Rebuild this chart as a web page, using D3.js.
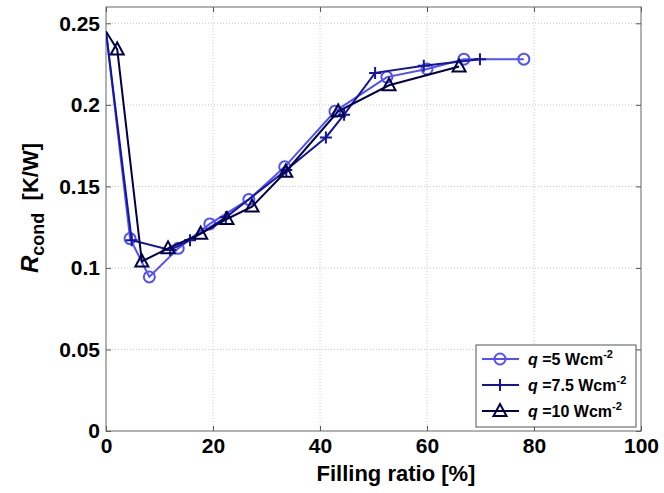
<!DOCTYPE html>
<html><head><meta charset="utf-8">
<script src="https://cdn.jsdelivr.net/npm/d3@7"></script>
<style>
body{margin:0;background:#fff;}
text{font-family:"Liberation Sans",Arial,sans-serif;font-weight:bold;}
</style></head>
<body><svg id="c" width="664" height="493"></svg>
<script>
const xTicks = [0,20,40,60,80,100];
const yTicks = [0,0.05,0.1,0.15,0.2,0.25];
const yTickLabels = ["0","0.05","0.1","0.15","0.2","0.25"];
const seriesNames = ["=5 Wcm","=7.5 Wcm","=10 Wcm"];
const q5x = [0,4.5,8.1,13.5,19.4,26.7,33.4,42.8,52.5,60,66.9,78.1];
const q5y = [0.245,0.118,0.0945,0.112,0.127,0.142,0.162,0.196,0.217,0.222,0.228,0.228];
const q75x = [0,4.8,12,15.7,22.4,33.7,41.1,44.5,50.3,59.4,69.9];
const q75y = [0.245,0.117,0.111,0.117,0.131,0.160,0.180,0.194,0.2196,0.224,0.228];
const q10x = [0,2.1,6.7,11.6,17.7,22.6,27.3,33.6,43.4,52.9,66];
const q10y = [0.245,0.234,0.104,0.112,0.121,0.130,0.1376,0.159,0.196,0.212,0.2235];
const colors = ["#5050ff","#14149e","#000046"];
const markers = ["circle","plus","triangle"];

const svg = d3.select("#c");
const L=106,T=7,R=641,B=431;
const x = d3.scaleLinear().domain([0,100]).range([L,R]);
const y = d3.scaleLinear().domain([0,0.26]).range([B,T]);

// grid
const g = svg.append("g");
g.selectAll(".gx").data(xTicks.filter(d=>d>0&&d<100)).enter().append("line")
 .attr("x1",d=>x(d)).attr("x2",d=>x(d)).attr("y1",T).attr("y2",B)
 .attr("stroke","#c8c8c8").attr("stroke-dasharray","1,2");
g.selectAll(".gy").data(yTicks.filter(d=>d>0)).enter().append("line")
 .attr("y1",d=>y(d)).attr("y2",d=>y(d)).attr("x1",L).attr("x2",R)
 .attr("stroke","#c8c8c8").attr("stroke-dasharray","1,2");

// axes
const xAxis = d3.axisBottom(x).tickValues(xTicks).tickSizeInner(-5).tickSizeOuter(0).tickPadding(9);
const xa = svg.append("g").attr("transform",`translate(0,${B})`).call(xAxis);
xa.selectAll("text").attr("font-size",21).attr("fill","#000").attr("dy","0.6em");
const yAxis = d3.axisLeft(y).tickValues(yTicks).tickFormat((d,i)=>yTickLabels[i]).tickSizeInner(-5).tickSizeOuter(0).tickPadding(6);
const ya = svg.append("g").attr("transform",`translate(${L},0)`).call(yAxis);
ya.selectAll("text").attr("font-size",21).attr("fill","#000");
// right / top ticks
svg.append("g").attr("transform",`translate(0,${T})`).call(d3.axisTop(x).tickValues(xTicks).tickSizeInner(-5).tickSizeOuter(0).tickFormat(""));
svg.append("g").attr("transform",`translate(${R},0)`).call(d3.axisRight(y).tickValues(yTicks).tickSizeInner(-5).tickSizeOuter(0).tickFormat(""));
svg.selectAll(".domain").attr("stroke","none");
svg.selectAll(".tick line").attr("stroke","#555");
svg.append("rect").attr("x",L).attr("y",T).attr("width",R-L).attr("height",B-T)
 .attr("fill","none").attr("stroke","#666").attr("stroke-width",1);

// clip
svg.append("clipPath").attr("id","clip").append("rect").attr("x",L).attr("y",T).attr("width",R-L).attr("height",B-T);

const series = [
 {xs:q5x,ys:q5y},{xs:q75x,ys:q75y},{xs:q10x,ys:q10y}
];
const line = d3.line().x(d=>x(d[0])).y(d=>y(d[1]));
function drawMarker(sel, type, color){
 if(type==="plus"){
   sel.append("path").attr("d","M-6,0H6M0,-6V6").attr("stroke",color).attr("stroke-width",2).attr("fill","none");
 } else if(type==="circle"){
   sel.append("circle").attr("r",5.5).attr("fill","none").attr("stroke",color).attr("stroke-width",2);
 } else {
   sel.append("path").attr("d","M0,-7L6.5,5H-6.5Z").attr("fill","none").attr("stroke",color).attr("stroke-width",2);
 }
}
const plot = svg.append("g").attr("clip-path","url(#clip)");
series.forEach((s,i)=>{
 const pts = s.xs.map((v,j)=>[v,s.ys[j]]);
 plot.append("path").datum(pts).attr("d",line).attr("fill","none")
   .attr("stroke",colors[i]).attr("stroke-width",2);
 pts.filter(p=>p[0]>0).forEach(p=>{
   const m = plot.append("g").attr("transform",`translate(${x(p[0])},${y(p[1])})`);
   drawMarker(m, markers[i], colors[i]);
 });
});

// axis labels
svg.append("text").attr("x",396).attr("y",481).attr("text-anchor","middle")
 .attr("font-size",22).text("Filling ratio [%]");
const yl = svg.append("text").attr("transform","translate(38,208) rotate(-90)").attr("text-anchor","middle").attr("font-size",22);
yl.append("tspan").attr("font-style","italic").attr("font-size",24).text("R");
yl.append("tspan").attr("dy",6).attr("font-size",18).text("cond");
yl.append("tspan").attr("dy",-6).text("\u00a0\u00a0[K/W]");

// legend
const lg = svg.append("g");
lg.append("rect").attr("x",476).attr("y",345).attr("width",160).attr("height",82)
 .attr("fill","#fff").attr("stroke","#555").attr("stroke-width",1);
seriesNames.forEach((n,i)=>{
 const yy = 359 + i*26;
 lg.append("line").attr("x1",482).attr("x2",519).attr("y1",yy).attr("y2",yy)
   .attr("stroke",colors[i]).attr("stroke-width",2);
 const m = lg.append("g").attr("transform",`translate(500,${yy})`);
 drawMarker(m, markers[i], colors[i]);
 const t = lg.append("text").attr("x",528).attr("y",yy+6).attr("font-size",16);
 t.append("tspan").attr("font-style","italic").text("q");
 t.append("tspan").text(" "+n);
 t.append("tspan").attr("dy",-7).attr("font-size",11).text("-2");
});
</script></body></html>
